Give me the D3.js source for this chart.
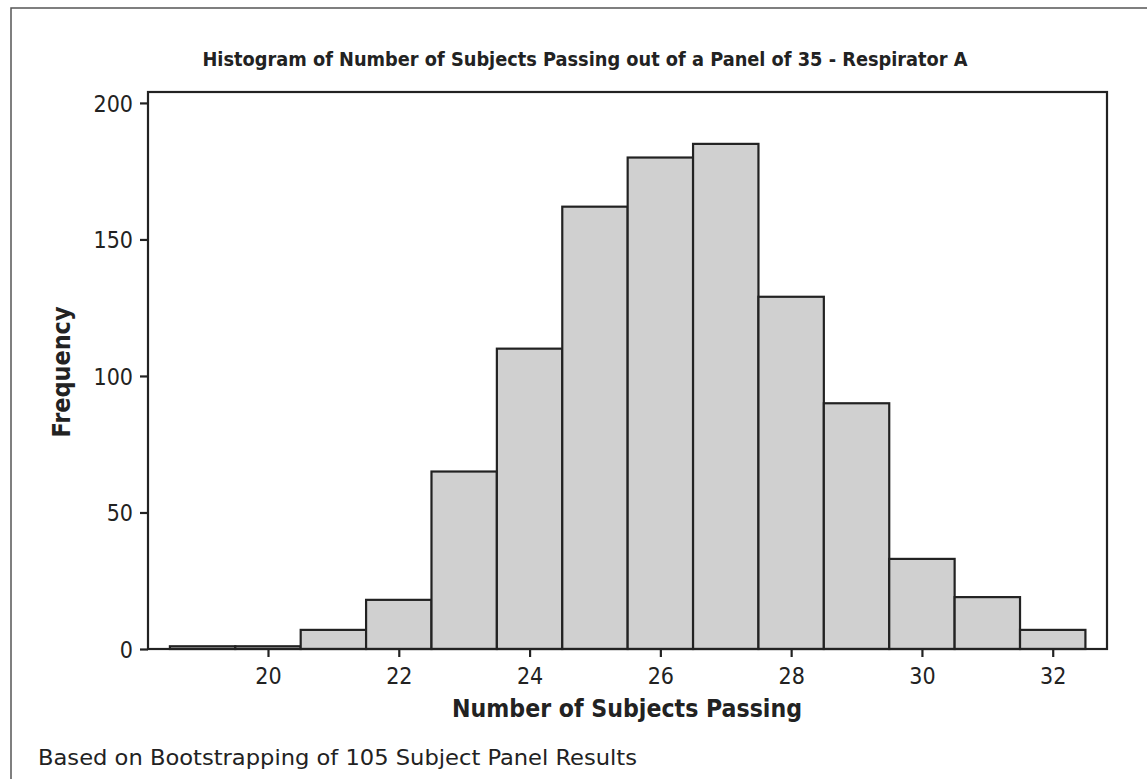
<!DOCTYPE html>
<html><head><meta charset="utf-8">
<script src="https://cdn.jsdelivr.net/npm/d3@7"></script>
<style>body{margin:0;background:#fff}svg{display:block}</style>
</head><body>
<svg id="c" width="1147" height="779"></svg>
<script>
const binCenters = [19,20,21,22,23,24,25,26,27,28,29,30,31,32];
const frequencies = [1,1,7,18,65,110,162,180,185,129,90,33,19,7];
const xTicks = [20,22,24,26,28,30,32];
const yTicks = [0,50,100,150,200];
const titleText = "Histogram of  Number of Subjects Passing out of a Panel of 35 - Respirator A";
const xLabel = "Number of Subjects Passing";
const yLabel = "Frequency";
const footText = "Based on Bootstrapping of 105 Subject Panel Results";

const svg = d3.select("#c");
const font = "Tahoma, 'DejaVu Sans Condensed', 'DejaVu Sans', sans-serif";
const L=148, T=92, R=1107, B=649;
const x = d3.scaleLinear().domain([18.165, 32.83]).range([L, R]);
const y = d3.scaleLinear().domain([0, 204]).range([B, T]);

svg.append("rect").attr("x",11).attr("y",8).attr("width",1160).attr("height",800)
  .attr("fill","none").attr("stroke","#555").attr("stroke-width",1.5);

svg.append("g").selectAll("rect").data(binCenters).join("rect")
  .attr("x", (d)=>x(d-0.5)).attr("width", (d)=>x(d+0.5)-x(d-0.5))
  .attr("y", (d,i)=>y(frequencies[i])).attr("height",(d,i)=>y(0)-y(frequencies[i]))
  .attr("fill","#d0d0d0").attr("stroke","#222").attr("stroke-width",2.2);

svg.append("rect").attr("x",L).attr("y",T).attr("width",R-L).attr("height",B-T)
  .attr("fill","none").attr("stroke","#222").attr("stroke-width",2.2);

const xa = svg.append("g").attr("transform",`translate(0,${B})`)
  .call(d3.axisBottom(x).tickValues(xTicks).tickSize(8).tickPadding(11).tickFormat(d3.format("d")));
const ya = svg.append("g").attr("transform",`translate(${L},0)`)
  .call(d3.axisLeft(y).tickValues(yTicks).tickSize(8).tickPadding(7).tickFormat(d3.format("d")));
[xa,ya].forEach(a=>{
  a.select(".domain").remove();
  a.selectAll(".tick line").attr("stroke","#222").attr("stroke-width",2.2);
  a.selectAll(".tick text").attr("font-family",font).attr("font-size",23).attr("fill","#222");
});
ya.selectAll(".tick text").attr("dy","0.36em");

svg.append("text").attr("x",585).attr("y",66).attr("text-anchor","middle")
  .attr("font-family",font).attr("font-weight","bold").attr("font-size",19).attr("fill","#222")
  .attr("textLength",765).attr("lengthAdjust","spacingAndGlyphs").text(titleText);
svg.append("text").attr("x",627).attr("y",717).attr("text-anchor","middle")
  .attr("font-family",font).attr("font-weight","bold").attr("font-size",24).attr("fill","#222")
  .attr("textLength",350).attr("lengthAdjust","spacingAndGlyphs").text(xLabel);
svg.append("text").attr("transform","translate(70,372) rotate(-90)").attr("text-anchor","middle")
  .attr("font-family",font).attr("font-weight","bold").attr("font-size",24).attr("fill","#222")
  .attr("textLength",131).attr("lengthAdjust","spacingAndGlyphs").text(yLabel);
svg.append("text").attr("x",38).attr("y",765)
  .attr("font-family",font).attr("font-size",21).attr("fill","#222")
  .attr("textLength",599).attr("lengthAdjust","spacingAndGlyphs").text(footText);
</script>
</body></html>
